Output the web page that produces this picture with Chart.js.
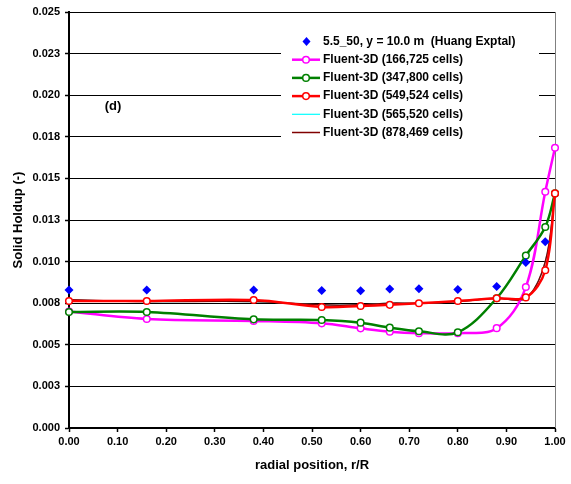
<!DOCTYPE html>
<html lang="en">
<head>
<meta charset="UTF-8">
<title>Solid Holdup vs radial position</title>
<script src="https://cdn.jsdelivr.net/npm/chart.js"></script>
<style>
    body { margin: 0; background: #fff; }
    #wrap { width: 571px; height: 484px; }
</style>
</head>
<body>
<div id="wrap"><canvas id="holdup" width="571" height="484"></canvas></div>
<script>
    // radial positions, r/R
    const rExp = [0.00, 0.16, 0.38, 0.52, 0.60, 0.66, 0.72, 0.80, 0.88, 0.94, 0.98];
    const rSim = [0.00, 0.16, 0.38, 0.52, 0.60, 0.66, 0.72, 0.80, 0.88, 0.94, 0.98, 1.00];

    // solid holdup values
    const huangExptal = [0.0083, 0.0083, 0.0083, 0.00827, 0.00825, 0.00835, 0.00837, 0.00833, 0.0085, 0.00995, 0.0112];
    const cells166k = [0.0070, 0.00655, 0.00643, 0.00629, 0.00599, 0.00579, 0.0057, 0.0057, 0.0060, 0.00847, 0.0142, 0.01684];
    const cells347k = [0.00697, 0.00697, 0.00653, 0.00649, 0.00633, 0.00603, 0.00581, 0.00575, 0.0078, 0.01036, 0.01208, 0.0141];
    const cells549k = [0.00763, 0.00763, 0.00769, 0.00727, 0.00733, 0.0074, 0.0075, 0.00763, 0.0078, 0.00785, 0.00948, 0.0141];
    const cells565k = [0.0077, 0.0076, 0.0076, 0.0074, 0.0074, 0.0075, 0.0075, 0.0076, 0.0078, 0.0078, 0.0100, 0.0141];
    const cells878k = [0.0077, 0.0076, 0.0076, 0.0074, 0.0074, 0.0075, 0.0075, 0.0076, 0.0078, 0.0078, 0.0100, 0.0141];

    const yTickLabels = ['0.000', '0.003', '0.005', '0.008', '0.010', '0.013', '0.015', '0.018', '0.020', '0.023', '0.025'];

    const FONT = 'Arial, "Liberation Sans", sans-serif';

    const pairs = (xs, ys) => ys.map((y, i) => ({ x: xs[i], y }));

    function simSet(label, ys, color, width, markers, order) {
        return {
            label,
            data: pairs(rSim, ys),
            borderColor: color,
            borderWidth: width,
            backgroundColor: '#fff',
            pointRadius: markers ? 3.3 : 0,
            pointBorderWidth: 1.5,
            pointBorderColor: color,
            pointBackgroundColor: '#fff',
            tension: 0.35,
            clip: false,
            order
        };
    }

    const datasets = [
        {
            label: '5.5_50, y = 10.0 m  (Huang Exptal)',
            data: pairs(rExp, huangExptal),
            showLine: false,
            pointStyle: 'rectRot',
            pointRadius: 4.5,
            pointBackgroundColor: '#0000ff',
            pointBorderColor: '#0000ff',
            pointBorderWidth: 0,
            clip: false,
            order: 0
        },
        simSet('Fluent-3D (166,725 cells)', cells166k, '#ff00ff', 2.5, true, 3),
        simSet('Fluent-3D (347,800 cells)', cells347k, '#008000', 2.5, true, 2),
        simSet('Fluent-3D (549,524 cells)', cells549k, '#ff0000', 2.5, true, 1),
        simSet('Fluent-3D (565,520 cells)', cells565k, '#00ffff', 1.2, false, 5),
        simSet('Fluent-3D (878,469 cells)', cells878k, '#800000', 1.5, false, 4)
    ];

    // legend box inside the plot plus the "(d)" tag and the right border
    const overlay = {
        id: 'overlay',
        beforeDatasetsDraw(chart) {
            const { ctx, chartArea } = chart;
            ctx.save();
            ctx.strokeStyle = '#808080';
            ctx.lineWidth = 1;
            ctx.beginPath();
            ctx.moveTo(chartArea.right + 0.5, chartArea.top);
            ctx.lineTo(chartArea.right + 0.5, chartArea.bottom);
            ctx.stroke();

            ctx.fillStyle = '#fff';
            ctx.fillRect(281, 29, 258, 116);

            ctx.font = 'bold 12px ' + FONT;
            ctx.textBaseline = 'middle';
            ctx.textAlign = 'left';
            const rowY = 41.5;
            const rowStep = 18.2;
            datasets.forEach((ds, i) => {
                const y = rowY + i * rowStep;
                if (i === 0) {
                    ctx.fillStyle = '#0000ff';
                    ctx.beginPath();
                    ctx.moveTo(306.5, y - 4.5);
                    ctx.lineTo(310.5, y);
                    ctx.lineTo(306.5, y + 4.5);
                    ctx.lineTo(302.5, y);
                    ctx.closePath();
                    ctx.fill();
                } else {
                    ctx.strokeStyle = ds.borderColor;
                    ctx.lineWidth = ds.borderWidth;
                    ctx.beginPath();
                    ctx.moveTo(292, y);
                    ctx.lineTo(320, y);
                    ctx.stroke();
                    if (ds.pointRadius > 0) {
                        ctx.fillStyle = '#fff';
                        ctx.lineWidth = 1.5;
                        ctx.beginPath();
                        ctx.arc(306, y, 3.3, 0, Math.PI * 2);
                        ctx.fill();
                        ctx.stroke();
                    }
                }
                ctx.fillStyle = '#000';
                ctx.fillText(ds.label, 323, y);
            });

            ctx.font = 'bold 13px ' + FONT;
            ctx.textAlign = 'center';
            ctx.fillText('(d)', 113, 106.5);
            ctx.restore();
        }
    };

    new Chart(document.getElementById('holdup'), {
        type: 'line',
        data: { datasets },
        options: {
            responsive: false,
            animation: false,
            devicePixelRatio: 1,
            layout: { padding: { top: 12, right: 16, left: 0, bottom: 0 } },
            plugins: {
                legend: { display: false },
                tooltip: { enabled: false }
            },
            scales: {
                x: {
                    type: 'linear',
                    min: 0,
                    max: 1,
                    afterFit: s => { s.height = 56; },
                    ticks: {
                        stepSize: 0.1,
                        padding: 3,
                        color: '#000',
                        font: { family: FONT, size: 11, weight: 'bold' },
                        maxRotation: 0,
                        callback: v => v.toFixed(2)
                    },
                    grid: { drawOnChartArea: false, drawTicks: true, tickLength: 4, tickColor: '#000', tickWidth: 1.5 },
                    border: { color: '#000', width: 2 },
                    title: {
                        display: true,
                        text: 'radial position, r/R',
                        color: '#000',
                        font: { family: FONT, size: 13, weight: 'bold' },
                        padding: { top: 0, bottom: 10.5 }
                    }
                },
                y: {
                    min: 0,
                    max: 0.025,
                    afterFit: s => { s.width = 69; },
                    ticks: {
                        stepSize: 0.0025,
                        padding: 5,
                        color: '#000',
                        font: { family: FONT, size: 11, weight: 'bold' },
                        callback: (v, i) => yTickLabels[i]
                    },
                    grid: { color: '#000', lineWidth: 1, tickLength: 4, tickColor: '#000', tickWidth: 1.5 },
                    border: { color: '#000', width: 2 },
                    title: {
                        display: true,
                        text: 'Solid Holdup (-)',
                        color: '#000',
                        font: { family: FONT, size: 13, weight: 'bold' },
                        padding: { top: 11, bottom: 0 }
                    }
                }
            }
        },
        plugins: [overlay]
    });
</script>
</body>
</html>
